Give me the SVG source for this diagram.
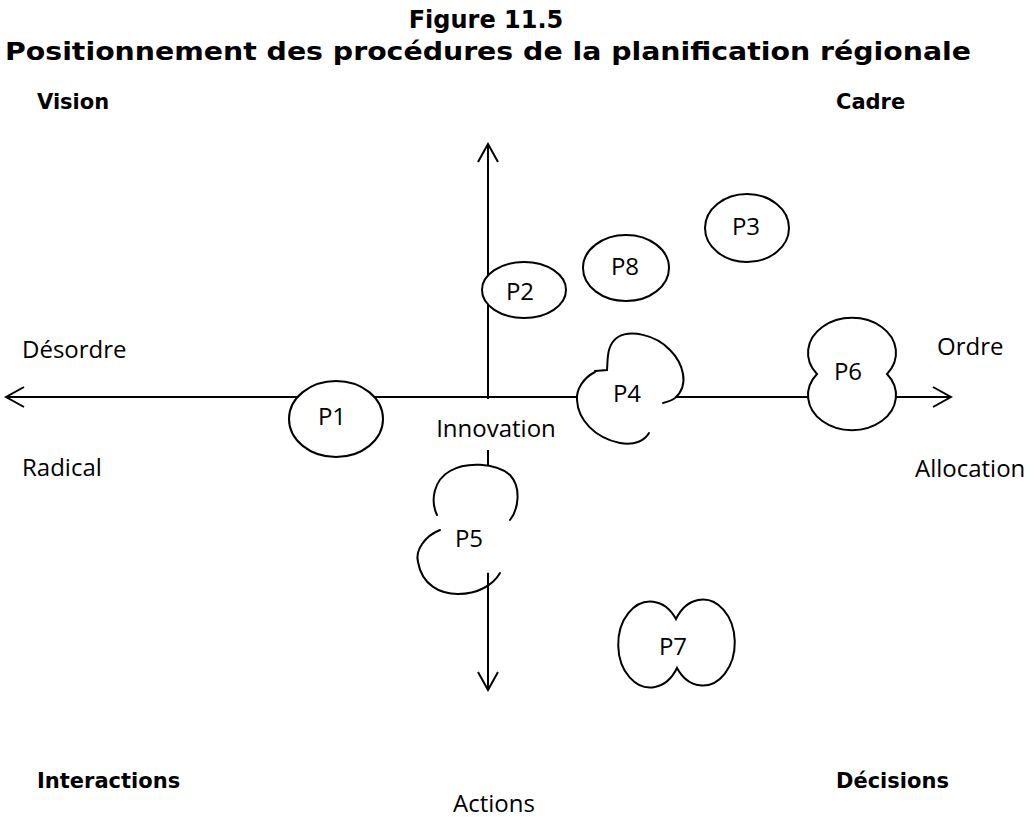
<svg xmlns="http://www.w3.org/2000/svg" width="1036" height="817" viewBox="0 0 1036 817">
  <style>
    .axis { stroke: #000; stroke-width: 2; fill: none; }
    .shape { fill: #fff; stroke: #000; stroke-width: 2; }
    .fillonly { fill: #fff; stroke: none; }
    .edge { fill: none; stroke: #000; stroke-width: 2; stroke-linecap: round; }
    .lbl { font-family: "Open Sans", "Liberation Sans", sans-serif; font-size: 24px; fill: #000; }
    .bold { font-family: "DejaVu Sans", "Liberation Sans", sans-serif; font-weight: bold; font-size: 21px; fill: #000; }
    .title { font-family: "DejaVu Sans", "Liberation Sans", sans-serif; font-weight: bold; font-size: 24px; fill: #000; text-anchor: middle; }
    .mid { text-anchor: middle; }
  </style>
  <defs>
    <marker id="vhead" viewBox="-20 -12 22 24" markerWidth="22" markerHeight="24" refX="0" refY="0" markerUnits="userSpaceOnUse" orient="auto-start-reverse">
      <path d="M-18,-10 L0,0 L-18,10" fill="none" stroke="#000" stroke-width="2"/>
    </marker>
  </defs>

  <rect width="1036" height="817" fill="#fff"/>

  <!-- title -->
  <g id="title">
    <text class="title" x="486" y="28">Figure 11.5</text>
    <text class="title" x="488" y="60" textLength="966" lengthAdjust="spacingAndGlyphs">Positionnement des procédures de la planification régionale</text>
  </g>

  <!-- axes -->
  <g id="connectors">
    <line class="axis" x1="6" y1="397" x2="951" y2="397" marker-start="url(#vhead)" marker-end="url(#vhead)"/>
    <line class="axis" x1="488" y1="144" x2="488" y2="690" marker-start="url(#vhead)" marker-end="url(#vhead)"/>
    <rect x="430" y="399" width="130" height="51" fill="#fff"/>
  </g>

  <!-- corner and axis labels -->
  <g id="axis-labels">
    <text class="bold" x="37" y="109">Vision</text>
    <text class="bold" x="836" y="109">Cadre</text>
    <text class="bold" x="37" y="788">Interactions</text>
    <text class="bold" x="836" y="788">Décisions</text>
    <text class="lbl" x="22" y="358">Désordre</text>
    <text class="lbl" x="937" y="355">Ordre</text>
    <text class="lbl" x="22" y="476">Radical</text>
    <text class="lbl" x="915" y="477">Allocation</text>
    <text class="lbl mid" x="496" y="437">Innovation</text>
    <text class="lbl mid" x="494" y="812">Actions</text>
  </g>

  <!-- procedures -->
  <g id="P1">
    <ellipse class="shape" cx="336" cy="419" rx="47" ry="38"/>
    <text class="lbl mid" x="332" y="425">P1</text>
  </g>
  <g id="P2">
    <ellipse class="shape" cx="524" cy="290" rx="42" ry="28"/>
    <text class="lbl mid" x="520" y="300">P2</text>
  </g>
  <g id="P8">
    <ellipse class="shape" cx="626" cy="268" rx="43" ry="33"/>
    <text class="lbl mid" x="625" y="275">P8</text>
  </g>
  <g id="P3">
    <ellipse class="shape" cx="747" cy="228" rx="42" ry="34"/>
    <text class="lbl mid" x="746" y="235">P3</text>
  </g>
  <g id="P4">
    <path class="fillonly" d="M595,372 C583,378 576,390 577,400 C578,420 595,438 620,443 C635,446 645,440 649,433 L663,403 C667,402 671,401 675,398 C690,385 683,363 670,350 C655,334 630,330 618,337 C606,345 608,360 610,370 Z"/>
    <path class="edge" d="M595,372 C583,378 576,390 577,400 C578,420 595,438 620,443 C635,446 645,440 649,433"/>
    <path class="edge" d="M595,371 L607,370 C608,360 606,345 618,337 C630,330 655,334 670,350 C683,363 690,385 675,398 C671,401 667,402 663,403"/>
    <text class="lbl mid" x="627" y="402">P4</text>
  </g>
  <g id="P5">
    <path class="fillonly" d="M437,515 C430,500 434,480 450,471 C465,462 495,462 510,475 C522,488 518,510 510,520 L500,573 L440,572 L440,530 Z"/>
    <path class="edge" d="M437,515 C430,500 434,480 450,471 C465,462 495,462 510,475 C522,488 518,510 510,520"/>
    <path class="edge" d="M440,530 C425,536 415,550 418,562 C422,585 440,594 458,594 C478,594 493,585 500,573"/>
    <text class="lbl mid" x="469" y="547">P5</text>
  </g>
  <g id="P6">
    <path class="shape" d="M817,374 A44,35 0 1 1 887,374 A44,35 0 1 1 817,374 Z"/>
    <text class="lbl mid" x="848" y="380">P6</text>
  </g>
  <g id="P7">
    <path class="shape" d="M676,619 A32,43 0 1 0 677,668 A32,43 0 1 0 676,619 Z"/>
    <text class="lbl mid" x="673" y="655">P7</text>
  </g>
</svg>
